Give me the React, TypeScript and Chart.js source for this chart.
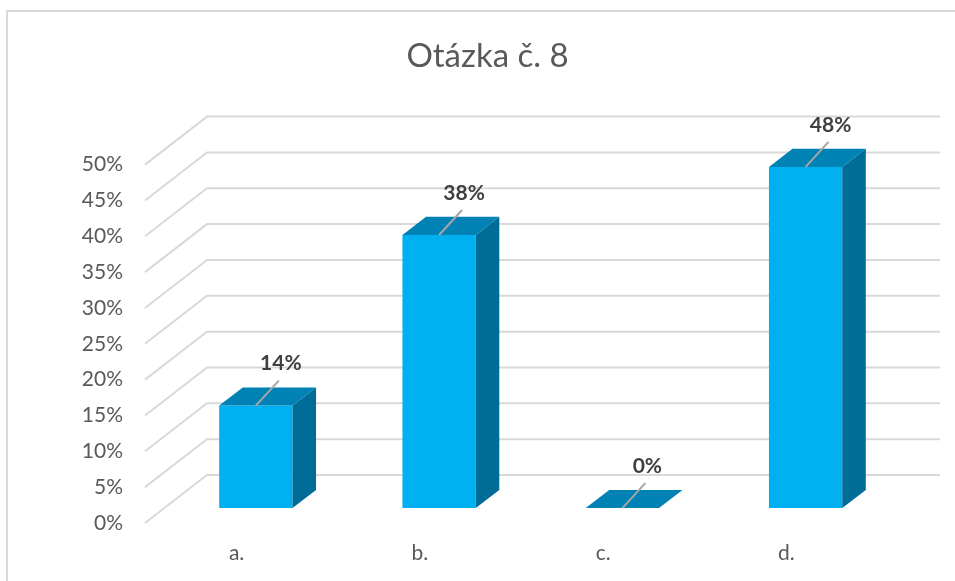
import React, { useEffect, useRef } from 'react';
import { Chart, registerables } from 'chart.js';

Chart.register(...registerables);

const TITLE = 'Otázka č. 8';
const categories = ['a.', 'b.', 'c.', 'd.'];
const values = [14.3, 38.1, 0, 47.6];
const yMin = 0;
const yMax = 50;
const yStep = 5;

const FONT = 'Lato, "Open Sans", sans-serif';
const TEXT = '#595959';
const GRID = '#D9D9D9';
const FRONT = '#00B0F0';
const TOP = '#0082B4';
const SIDE = '#006D98';
const LABEL = '#404040';
const LEADER = '#A6A6A6';

// 3D depth of the plot box (front plane -> back wall)
const DX = 62;
const DY = -48;
const F0 = 0.31; // bar front within depth
const F1 = 0.69; // bar back within depth

const threeD = {
  id: 'threeD',
  beforeDraw(chart: any) {
    const { ctx, width, height } = chart;
    ctx.save();
    ctx.strokeStyle = GRID;
    ctx.lineWidth = 2;
    ctx.beginPath();
    ctx.moveTo(7, height);
    ctx.lineTo(7, 11);
    ctx.lineTo(width, 11);
    ctx.stroke();
    ctx.restore();
  },
  beforeDatasetsDraw(chart: any) {
    const { ctx, chartArea } = chart;
    const y = chart.scales.y;
    ctx.save();
    ctx.strokeStyle = GRID;
    ctx.lineWidth = 2;
    y.ticks.forEach((t: any) => {
      const py = y.getPixelForValue(t.value);
      ctx.beginPath();
      ctx.moveTo(chartArea.left, py);
      ctx.lineTo(chartArea.left + DX, py + DY);
      ctx.lineTo(chartArea.right + DX, py + DY);
      ctx.stroke();
    });
    ctx.restore();
  },
  beforeDatasetDraw(chart: any) {
    chart.ctx.save();
    chart.ctx.translate(DX * F0, DY * F0);
  },
  afterDatasetDraw(chart: any, args: any) {
    const ctx = chart.ctx;
    const ddx = DX * (F1 - F0);
    const ddy = DY * (F1 - F0);
    args.meta.data.forEach((el: any) => {
      const { x, y, base, width } = el.getProps(['x', 'y', 'base', 'width'], true);
      const l = x - width / 2;
      const r = x + width / 2;
      ctx.fillStyle = SIDE;
      ctx.beginPath();
      ctx.moveTo(r, y);
      ctx.lineTo(r + ddx, y + ddy);
      ctx.lineTo(r + ddx, base + ddy);
      ctx.lineTo(r, base);
      ctx.closePath();
      ctx.fill();
      ctx.fillStyle = TOP;
      ctx.beginPath();
      ctx.moveTo(l, y);
      ctx.lineTo(r, y);
      ctx.lineTo(r + ddx, y + ddy);
      ctx.lineTo(l + ddx, y + ddy);
      ctx.closePath();
      ctx.fill();
    });
    ctx.restore();
  },
  afterDatasetsDraw(chart: any) {
    const ctx = chart.ctx;
    const meta = chart.getDatasetMeta(0);
    const data = chart.data.datasets[0].data as number[];
    ctx.save();
    meta.data.forEach((el: any, i: number) => {
      const { x, y } = el.getProps(['x', 'y'], true);
      const sx = x + DX * F0;
      const sy = y + DY * F0;
      const ex = sx + 23;
      const ey = sy - 25;
      ctx.strokeStyle = LEADER;
      ctx.lineWidth = 2;
      ctx.beginPath();
      ctx.moveTo(sx, sy);
      ctx.lineTo(ex, ey);
      ctx.stroke();
      ctx.fillStyle = LABEL;
      ctx.font = `bold 21px ${FONT}`;
      ctx.textAlign = 'center';
      ctx.textBaseline = 'middle';
      ctx.fillText(`${Math.round(data[i])}%`, ex + 2, ey - 17);
    });
    ctx.restore();
  },
};

export default function App() {
  const ref = useRef<HTMLCanvasElement>(null);
  useEffect(() => {
    if (!ref.current) return;
    const chart = new Chart(ref.current, {
      type: 'bar',
      data: {
        labels: categories,
        datasets: [
          {
            data: values,
            backgroundColor: FRONT,
            borderWidth: 0,
            barPercentage: 0.4,
            categoryPercentage: 1,
          },
        ],
      },
      options: {
        animation: false,
        responsive: false,
        devicePixelRatio: 1,
        events: [],
        layout: { padding: { left: 20, right: 0, top: 0, bottom: 0 } },
        plugins: {
          legend: { display: false },
          tooltip: { enabled: false },
          title: {
            display: true,
            text: TITLE,
            color: TEXT,
            font: { family: FONT, size: 33, weight: 'normal' },
            padding: { top: 37, bottom: 88 },
          },
        },
        scales: {
          x: {
            grid: { display: false, drawTicks: false },
            border: { display: false },
            ticks: { color: TEXT, font: { family: FONT, size: 21 }, padding: 18 },
            afterFit: (s: any) => {
              s.height = 58;
            },
          },
          y: {
            min: yMin,
            max: yMax,
            grid: { display: false, drawTicks: false },
            border: { display: false },
            ticks: {
              stepSize: yStep,
              color: TEXT,
              font: { family: FONT, size: 21 },
              padding: 22,
              callback: (v: any) => `${v}%`,
            },
            afterFit: (s: any) => {
              s.width = 125;
            },
          },
          yRight: {
            type: 'linear',
            position: 'right',
            display: true,
            grid: { display: false, drawTicks: false },
            border: { display: false },
            ticks: { display: false },
            afterFit: (s: any) => {
              s.width = 77;
            },
          },
        },
      },
      plugins: [threeD],
    });
    return () => chart.destroy();
  }, []);
  return (
    <div style={{ position: 'fixed', left: 0, top: 0, width: 955, height: 581, background: '#fff' }}>
      <canvas ref={ref} width={955} height={581} style={{ display: 'block', width: 955, height: 581 }} />
    </div>
  );
}
